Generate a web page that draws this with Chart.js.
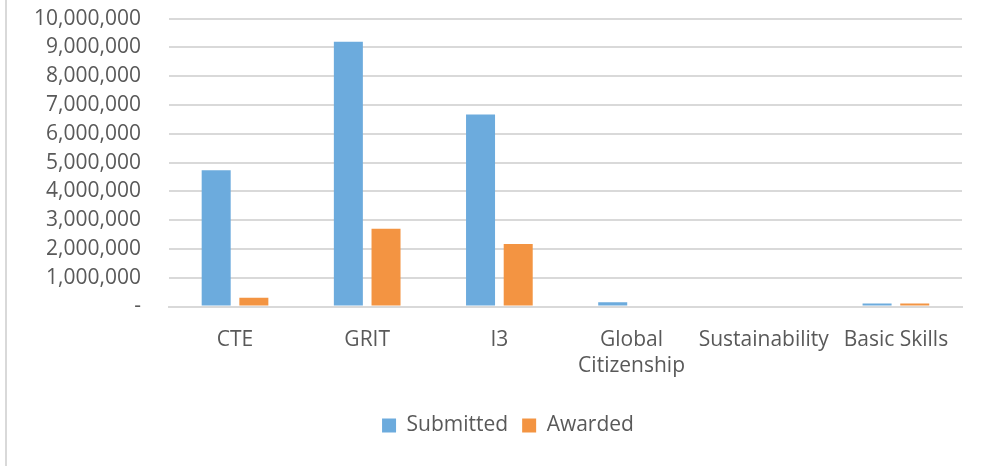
<!DOCTYPE html>
<html>
<head>
<meta charset="utf-8">
<script src="https://cdn.jsdelivr.net/npm/chart.js@4.4.1/dist/chart.umd.min.js"></script>
<style>
  html, body { margin: 0; padding: 0; background: #fff; }
  #wrap { position: absolute; left: 0; top: 0; width: 986px; height: 466px; overflow: hidden; }
  #frame { position: absolute; left: 5px; top: 0; width: 0; height: 466px; border-left: 2px solid #d9d9d9; z-index: 1; }
  /* chart.js keeps a gap above the top tick, so the canvas is pulled up a bit */
  #myChart { position: absolute; left: 0; top: -22px; }
</style>
</head>
<body>
<div id="wrap">
  <div id="frame"></div>
  <canvas id="myChart" width="986" height="488"></canvas>
</div>
<script>
// categories and values
const categories = ["CTE", "GRIT", "I3", ["Global", "Citizenship"], "Sustainability", "Basic Skills"];
const submitted = [4730000, 9200000, 6670000, 150000, 0, 100000];
const awarded = [300000, 2700000, 2170000, 0, 0, 100000];

const textColor = "#595959";
const gridColor = "#d9d9d9";
const fontFamily = "'Open Sans', sans-serif";

// the original legend sits a bit right of the canvas centre
const legendShift = {
  id: "legendShift",
  afterLayout(chart) {
    chart.legend.left += 24;
    chart.legend.right += 24;
  },
};

const ctx = document.getElementById("myChart").getContext("2d");
new Chart(ctx, {
  type: "bar",
  data: {
    labels: categories,
    datasets: [
      {
        label: "Submitted",
        data: submitted,
        backgroundColor: "#6cabdd",
        categoryPercentage: 0.57,
        barPercentage: 0.77,
      },
      {
        label: "Awarded",
        data: awarded,
        backgroundColor: "#f39442",
        categoryPercentage: 0.57,
        barPercentage: 0.77,
      },
    ],
  },
  options: {
    responsive: false,
    animation: false,
    layout: { padding: { top: 5, right: 24, bottom: 20, left: 6 } },
    plugins: {
      tooltip: { enabled: false },
      legend: {
        position: "bottom",
        labels: {
          color: textColor,
          font: { family: fontFamily, size: 21 },
          boxWidth: 14,
          boxHeight: 14,
          padding: 14,
        },
      },
    },
    scales: {
      x: {
        grid: { display: false },
        border: { display: true, color: gridColor, width: 2 },
        ticks: {
          color: textColor,
          font: { family: fontFamily, size: 21, lineHeight: 1.25 },
          padding: 12,
          maxRotation: 0,
          autoSkip: false,
        },
        // extra room between the category labels and the legend
        afterFit: (scale) => { scale.height += 10; },
      },
      y: {
        min: 0,
        max: 10000000,
        grid: { color: gridColor, lineWidth: 2, drawTicks: false },
        border: { display: false },
        ticks: {
          stepSize: 1000000,
          autoSkip: false,
          color: textColor,
          font: { family: fontFamily, size: 21 },
          padding: 28,
          callback: (v) => (v === 0 ? "-" : v.toLocaleString("en-US")),
        },
      },
    },
  },
  plugins: [legendShift],
});
</script>
</body>
</html>
